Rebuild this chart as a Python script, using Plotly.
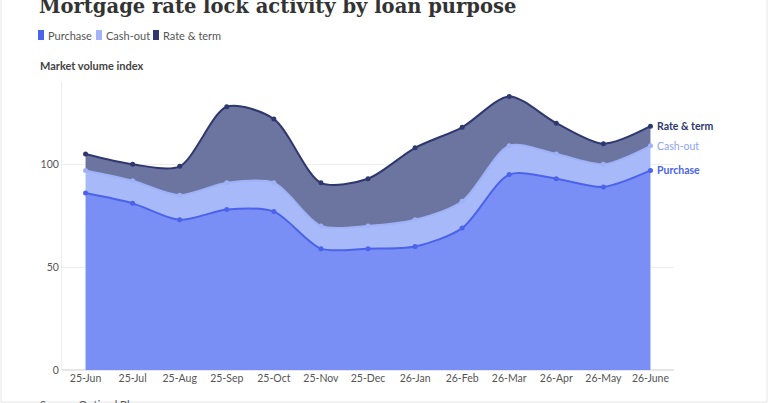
import plotly.graph_objects as go

months = ["25-Jun", "25-Jul", "25-Aug", "25-Sep", "25-Oct", "25-Nov", "25-Dec",
          "26-Jan", "26-Feb", "26-Mar", "26-Apr", "26-May", "26-June"]
purchase = [86, 81, 73, 78, 77, 59, 59, 60, 69, 95, 93, 89, 97]
cash_out = [11, 11, 12, 13, 14, 11, 11, 13, 13, 14, 12, 11, 12]
rate_term = [8, 8, 14, 37, 31, 21, 23, 35, 36, 24, 15, 10, 9.5]
y_ticks = [0, 50, 100]

series = [
    ("Purchase", purchase, "#4a63ea", "rgba(122,143,245,1)"),
    ("Cash-out", cash_out, "#9fb2f7", "rgba(168,185,249,1)"),
    ("Rate & term", rate_term, "#2e386e", "rgba(108,117,160,1)"),
]

W, H = 768, 403
L, R, T, B = 62, 94, 82, 33
PW, PH = W - L - R, H - T - B

def px(x):
    return (x - L) / PW

def py(y):
    return (H - B - y) / PH

xs = list(range(len(months)))
fig = go.Figure()
for name, vals, lc, fc in series:
    fig.add_trace(go.Scatter(
        x=xs, y=vals, name=name, stackgroup="one", mode="lines+markers",
        line=dict(color=lc, width=2, shape="spline", smoothing=0.8),
        marker=dict(color=lc, size=5), fillcolor=fc, hoverinfo="skip",
        showlegend=False))

# end labels
tops = []
acc = 0
for name, vals, lc, fc in series:
    acc += vals[-1]
    tops.append(acc)
label_styles = [("<b>Purchase</b>", "#4a63ea"), ("Cash-out", "#8ea3f3"), ("<b>Rate & term</b>", "#2e386e")]
annotations = []
for (txt, col), top in zip(label_styles, tops):
    annotations.append(dict(x=len(months) - 1, y=top, xref="x", yref="y", text=txt,
                            showarrow=False, xanchor="left", xshift=5,
                            font=dict(family="Lato", size=10.5, color=col)))

annotations.append(dict(x=px(37), y=py(6), xref="paper", yref="paper", xanchor="left", yanchor="middle",
                        text="<b>Mortgage rate lock activity by loan purpose</b>", showarrow=False,
                        font=dict(family="DejaVu Serif", size=19.5, color="#333333")))
annotations.append(dict(x=px(38), y=py(65), xref="paper", yref="paper", xanchor="left", yanchor="middle",
                        text="<b>Market volume index</b>", showarrow=False,
                        font=dict(family="Lato", size=11, color="#444444")))
annotations.append(dict(x=px(38), y=py(404), xref="paper", yref="paper", xanchor="left", yanchor="middle",
                        text="Source: Optimal Blue", showarrow=False,
                        font=dict(family="Lato", size=11, color="#555555")))

shapes = []
legend_items = [("Purchase", "#4a63ea", 38), ("Cash-out", "#a3b4f8", 96), ("Rate & term", "#2e386e", 153)]
for name, col, x0 in legend_items:
    shapes.append(dict(type="rect", xref="paper", yref="paper", x0=px(x0), x1=px(x0 + 6),
                       y0=py(40), y1=py(30), fillcolor=col, line=dict(width=0)))
    annotations.append(dict(x=px(x0 + 8), y=py(35), xref="paper", yref="paper", xanchor="left",
                            yanchor="middle", text=name, showarrow=False,
                            font=dict(family="Lato", size=11, color="#555555")))
# frame border
shapes.append(dict(type="rect", xref="paper", yref="paper", x0=px(1), x1=px(767), y0=py(402), y1=py(-5),
                   line=dict(color="#e6e6e6", width=1), layer="below"))

fig.update_layout(
    width=W, height=H, margin=dict(l=L, r=R, t=T, b=B),
    paper_bgcolor="white", plot_bgcolor="white",
    annotations=annotations, shapes=shapes, hovermode=False,
    xaxis=dict(range=[-0.5, 12.5], tickmode="array", tickvals=xs, ticktext=months,
               showgrid=False, zeroline=False, showline=False, ticks="",
               tickfont=dict(family="Lato", size=10.5, color="#555555")),
    yaxis=dict(range=[0, 140], tickvals=y_ticks, showgrid=True, gridcolor="#eeeeee",
               zeroline=True, zerolinecolor="#e6e6e6", showline=True, linecolor="#eeeeee",
               tickfont=dict(family="Lato", size=10.5, color="#555555"), ticks="", ticklen=0),
)
fig.write_html("out.html")
